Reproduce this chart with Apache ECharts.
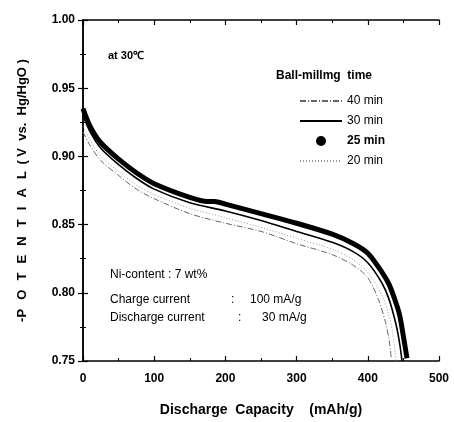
<!DOCTYPE html>
<html>
<head>
<meta charset="utf-8">
<script src="https://cdn.jsdelivr.net/npm/echarts@6/dist/echarts.min.js"></script>
<style>
  html, body {margin: 0; padding: 0; background: #fff;}
  #chart {width: 454px; height: 422px;}
</style>
</head>
<body>
<div id="chart"></div>
<script>
// discharge curves: [capacity mAh/g, -potential V]
const min25 = [[0, 0.935], [10, 0.922], [25, 0.910], [50, 0.898], [75, 0.888], [100, 0.880], [150, 0.870],
  [175, 0.867], [185, 0.867], [200, 0.865], [250, 0.858], [300, 0.851], [350, 0.843], [380, 0.836],
  [400, 0.829], [420, 0.815], [430, 0.806], [440, 0.792], [445, 0.783], [450, 0.768], [455, 0.752]]
const min30 = [[0, 0.930], [10, 0.918], [25, 0.906], [50, 0.894], [75, 0.884], [100, 0.876], [150, 0.866],
  [200, 0.860], [250, 0.853], [300, 0.845], [350, 0.837], [380, 0.830], [400, 0.822], [420, 0.807],
  [430, 0.795], [440, 0.776], [445, 0.762], [448, 0.750]]
const min20 = [[0, 0.922], [10, 0.912], [25, 0.900], [50, 0.889], [75, 0.879], [100, 0.872], [150, 0.862],
  [200, 0.855], [250, 0.848], [300, 0.840], [350, 0.832], [380, 0.824], [400, 0.815], [420, 0.798],
  [430, 0.783], [435, 0.770], [440, 0.750]]
const min40 = [[0, 0.918], [10, 0.908], [25, 0.897], [50, 0.886], [75, 0.876], [100, 0.869], [150, 0.858],
  [200, 0.851], [250, 0.845], [300, 0.836], [350, 0.828], [380, 0.820], [400, 0.811], [415, 0.795],
  [425, 0.778], [430, 0.765], [433, 0.752]]
const seriesNames = ['40 min', '30 min', '25 min', '20 min']

const chart = echarts.init(document.getElementById('chart'))

const font = 'Arial, "Liberation Sans", sans-serif'
const tickLabel = {color: '#000', fontFamily: font, fontWeight: 'bold', fontSize: 12}

// 坐标轴公共样式
const axisCommon = {
  axisLine: {lineStyle: {color: '#000', width: 1.5}},
  axisTick: {inside: true, length: 5, lineStyle: {color: '#000', width: 1.2}},
  minorTick: {show: true, splitNumber: 2, length: 3, lineStyle: {color: '#000'}},
  splitLine: {show: false}
}

const sp = '\u2002\u2009'
const yName = '-' + 'POTENTIAL'.split('').join(sp) + '\u2002( V  vs.  Hg/HgO )'

const option = {
  animation: false,
  grid: {left: 83, right: 15, top: 20, bottom: 60},
  xAxis: [
    {
      type: 'value', min: 0, max: 500, interval: 100, ...axisCommon,
      axisLabel: {...tickLabel, margin: 12},
      name: 'Discharge  Capacity    (mAh/g)', nameLocation: 'middle', nameGap: 42,
      nameTextStyle: {color: '#000', fontFamily: font, fontWeight: 'bold', fontSize: 14}
    },
    {type: 'value', position: 'top', min: 0, max: 500, interval: 100, ...axisCommon, axisLabel: {show: false}}
  ],
  yAxis: [
    {
      type: 'value', min: 0.75, max: 1.0, interval: 0.05, ...axisCommon,
      axisLabel: {...tickLabel, margin: 8, formatter: v => v.toFixed(2)},
      name: yName, nameLocation: 'middle', nameGap: 54,
      nameTextStyle: {color: '#000', fontFamily: font, fontWeight: 'bold', fontSize: 13}
    },
    {type: 'value', position: 'right', min: 0.75, max: 1.0, interval: 0.05, ...axisCommon, axisLabel: {show: false}}
  ],
  legend: {
    orient: 'vertical', left: 294, top: 90, itemWidth: 42, itemHeight: 10, itemGap: 8,
    textStyle: {color: '#000', fontFamily: font, fontSize: 12},
    itemStyle: {opacity: 0},
    data: [
      {name: '40 min'},
      {name: '30 min'},
      {name: '25 min', icon: 'circle', itemStyle: {opacity: 1}, textStyle: {fontWeight: 'bold'}},
      {name: '20 min'}
    ]
  },
  graphic: [
    {type: 'text', left: 276, top: 70, style: {text: 'Ball-millmg  time', font: 'bold 12px ' + font, fill: '#000'}},
    {type: 'text', left: 108, top: 50, style: {text: 'at 30℃', font: 'bold 11px ' + font, fill: '#000'}},
    {type: 'text', left: 110, top: 269, style: {text: 'Ni-content : 7 wt%', font: '12px ' + font, fill: '#000'}},
    {type: 'text', left: 110, top: 294, style: {text: 'Charge current', font: '12px ' + font, fill: '#000'}},
    {type: 'text', left: 231, top: 294, style: {text: ':', font: '12px ' + font, fill: '#000'}},
    {type: 'text', left: 250, top: 294, style: {text: '100 mA/g', font: '12px ' + font, fill: '#000'}},
    {type: 'text', left: 110, top: 312, style: {text: 'Discharge current', font: '12px ' + font, fill: '#000'}},
    {type: 'text', left: 238, top: 312, style: {text: ':', font: '12px ' + font, fill: '#000'}},
    {type: 'text', left: 262, top: 312, style: {text: '30 mA/g', font: '12px ' + font, fill: '#000'}}
  ],
  series: [
    {
      name: seriesNames[0], type: 'line', data: min40, symbol: 'none', smooth: 0.3,
      lineStyle: {color: '#666', width: 1, type: [6, 2, 1, 2]}, itemStyle: {color: '#666'}
    },
    {
      name: seriesNames[1], type: 'line', data: min30, symbol: 'none', smooth: 0.3,
      lineStyle: {color: '#000', width: 1.6}, itemStyle: {color: '#000'}
    },
    {
      name: seriesNames[2], type: 'line', data: min25, symbol: 'none', smooth: 0.3,
      lineStyle: {color: '#000', width: 5}, itemStyle: {color: '#000'}
    },
    {
      name: seriesNames[3], type: 'line', data: min20, symbol: 'none', smooth: 0.3,
      lineStyle: {color: '#999', width: 1, type: [1, 2]}, itemStyle: {color: '#999'}
    }
  ]
}

chart.setOption(option)
</script>
</body>
</html>
